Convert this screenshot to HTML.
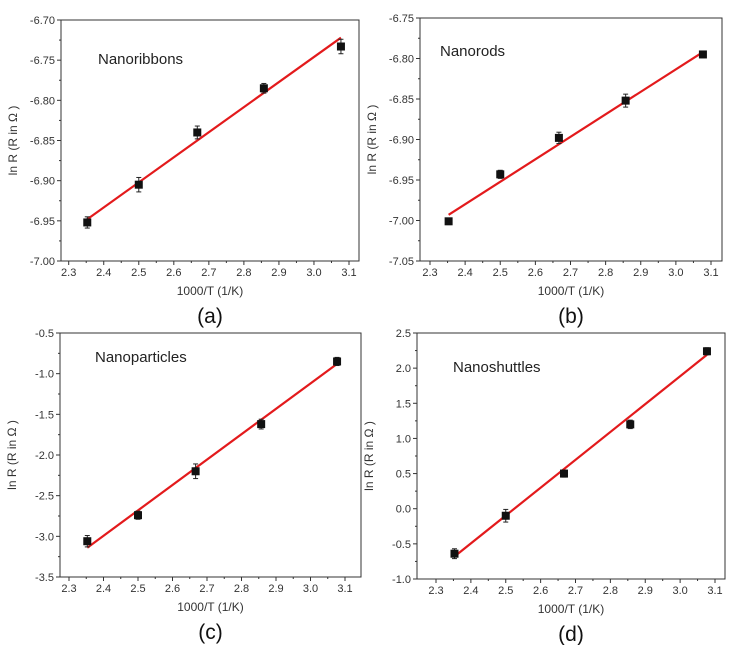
<!DOCTYPE html>
<html><head><meta charset="utf-8"><style>
body{margin:0;background:#fff;font-family:"Liberation Sans",sans-serif}
svg{display:block}
</style></head><body>
<svg id="s" width="736" height="645" viewBox="0 0 736 645" xmlns="http://www.w3.org/2000/svg"></svg>
<script>
const xValues=[2.353,2.5,2.667,2.857,3.077];
const xTicks=[2.3,2.4,2.5,2.6,2.7,2.8,2.9,3.0,3.1];
const yA=[-6.952,-6.905,-6.840,-6.785,-6.733];
const errA=[0.007,0.009,0.008,0.006,0.009];
const fitA=[-6.948,-6.722];
const ticksA=[-6.70,-6.75,-6.80,-6.85,-6.90,-6.95,-7.00];
const yB=[-7.001,-6.943,-6.898,-6.852,-6.795];
const errB=[0.004,0.005,0.007,0.008,0.004];
const fitB=[-6.993,-6.792];
const ticksB=[-6.75,-6.80,-6.85,-6.90,-6.95,-7.00,-7.05];
const yC=[-3.06,-2.74,-2.20,-1.62,-0.85];
const errC=[0.07,0.05,0.09,0.06,0.05];
const fitC=[-3.14,-0.88];
const ticksC=[-0.5,-1.0,-1.5,-2.0,-2.5,-3.0,-3.5];
const yD=[-0.64,-0.10,0.50,1.20,2.24];
const errD=[0.07,0.09,0.05,0.06,0.05];
const fitD=[-0.68,2.19];
const ticksD=[2.5,2.0,1.5,1.0,0.5,0.0,-0.5,-1.0];
const NS="http://www.w3.org/2000/svg";
const svg=document.getElementById('s');
function mk(t,a,p){const e=document.createElementNS(NS,t);for(const k in a)e.setAttribute(k,a[k]);(p||svg).appendChild(e);return e;}
function panel(cfg){
 const g=mk('g',{});
 
 
 const X=v=>cfg.x23+(v-2.3)*(cfg.x31-cfg.x23)/0.8;
 const Y=v=>cfg.top+(cfg.ymax-v)*(cfg.bot-cfg.top)/(cfg.ymax-cfg.ymin);
 const fr=mk('rect',{x:cfg.l,y:cfg.top,width:cfg.r-cfg.l,height:cfg.bot-cfg.top,fill:'none',stroke:'#333','stroke-width':1},g);
 
 
 xTicks.forEach((t,i)=>{
  const x=X(t);
  mk('line',{x1:x,x2:x,y1:cfg.bot,y2:cfg.bot+4,stroke:'#333'},g);
  const xm=X(t+0.05); if(xm<cfg.r) mk('line',{x1:xm,x2:xm,y1:cfg.bot,y2:cfg.bot+2,stroke:'#333'},g);
  const tx=mk('text',{x:x,y:cfg.bot+15,'font-size':11,'text-anchor':'middle',fill:'#333'},g);
  tx.textContent=t.toFixed(1);
  
  
 });
 const step=Math.abs(cfg.ticks[0]-cfg.ticks[1]);
 cfg.ticks.forEach(t=>{
  const y=Y(t);
  mk('line',{x1:cfg.l-4,x2:cfg.l,y1:y,y2:y,stroke:'#333'},g);
  const ym=Y(t-step/2); if(ym<cfg.bot) mk('line',{x1:cfg.l-2,x2:cfg.l,y1:ym,y2:ym,stroke:'#333'},g);
  const tx=mk('text',{x:cfg.l-6,y:y+4,'font-size':11,'text-anchor':'end',fill:'#333'},g);
  tx.textContent=t.toFixed(cfg.dec);
  
  
 });
 const xt=mk('text',{x:(cfg.l+cfg.r)/2,y:cfg.bot+34,'font-size':12,'text-anchor':'middle',fill:'#333'},g);
 xt.textContent='1000/T (1/K)';
 
 
 const yc=(cfg.top+cfg.bot)/2;
 const yt=mk('text',{x:cfg.l-44,y:yc,'font-size':12,'text-anchor':'middle',fill:'#333',transform:`rotate(-90 ${cfg.l-44} ${yc})`},g);
 yt.textContent='ln R (R in Ω )';
 
 
 const nm=mk('text',{x:cfg.nx,y:cfg.ny,'font-size':15,fill:'#222'},g);
 nm.textContent=cfg.name;
 
 
 const cap=mk('text',{x:(cfg.l+cfg.r)/2,y:cfg.bot+62,'font-size':21,'text-anchor':'middle',fill:'#111'},g);
 cap.textContent='('+cfg.id+')';
 
 
 const fl=mk('line',{x1:X(xValues[0]),y1:Y(cfg.fit[0]),x2:X(xValues[4]),y2:Y(cfg.fit[1]),stroke:'#e31a1c','stroke-width':2.2},g);
 
 
 cfg.ys.forEach((v,i)=>{
  const x=X(xValues[i]),y=Y(v),e1=Y(v+cfg.err[i]),e2=Y(v-cfg.err[i]);
  mk('line',{x1:x,x2:x,y1:e1,y2:e2,stroke:'#222'},g);
  mk('line',{x1:x-2.5,x2:x+2.5,y1:e1,y2:e1,stroke:'#222'},g);
  mk('line',{x1:x-2.5,x2:x+2.5,y1:e2,y2:e2,stroke:'#222'},g);
  const p=mk('rect',{x:x-4,y:y-4,width:8,height:8,fill:'#111'},g);
  
  
 });
}
panel({id:'a',l:61,r:359,top:20,bot:261,x23:68.7,x31:349,ymax:-6.70,ymin:-7.00,ticks:ticksA,dec:2,ys:yA,err:errA,fit:fitA,name:'Nanoribbons',nx:98,ny:64});
panel({id:'b',l:420,r:722,top:18,bot:261,x23:430,x31:711,ymax:-6.75,ymin:-7.05,ticks:ticksB,dec:2,ys:yB,err:errB,fit:fitB,name:'Nanorods',nx:440,ny:56});
panel({id:'c',l:60,r:361,top:333,bot:577,x23:69,x31:345,ymax:-0.5,ymin:-3.5,ticks:ticksC,dec:1,ys:yC,err:errC,fit:fitC,name:'Nanoparticles',nx:95,ny:362});
panel({id:'d',l:417,r:725,top:333,bot:579,x23:436,x31:715,ymax:2.5,ymin:-1.0,ticks:ticksD,dec:1,ys:yD,err:errD,fit:fitD,name:'Nanoshuttles',nx:453,ny:372});
</script>
</body></html>
